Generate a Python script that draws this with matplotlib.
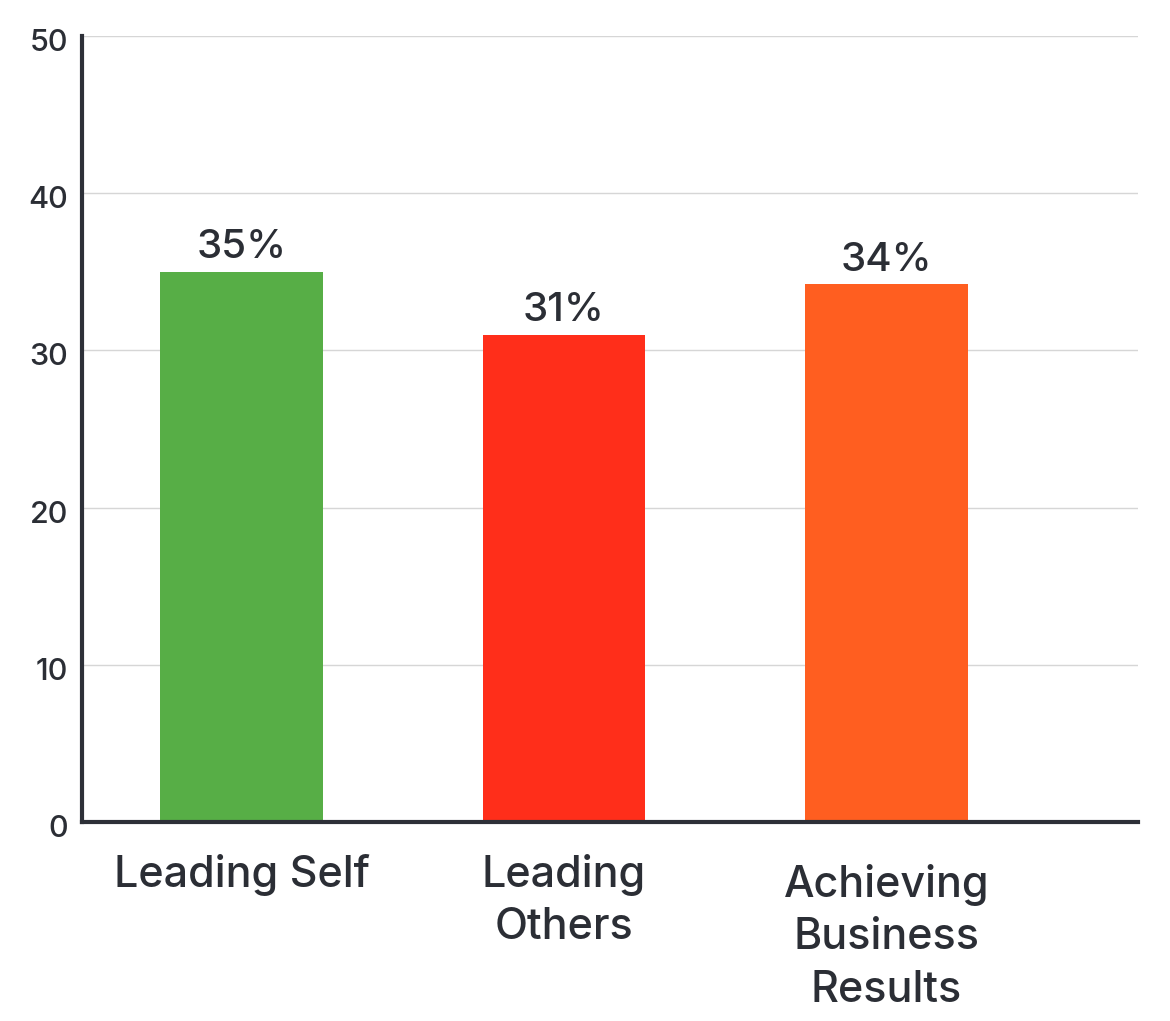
import matplotlib.pyplot as plt
from matplotlib.transforms import ScaledTranslation

categories = ['Leading Self', 'Leading\nOthers', 'Achieving\nBusiness\nResults']
values = [35, 31, 34.2]
value_labels = ['35%', '31%', '34%']
colors = ['#57ae46', '#ff2e1a', '#ff5e20']
label_drop = [0, 0, 10]  # px, third label sits a bit lower

TEXT = '#2b2e35'
plt.rcParams['font.family'] = ['Inter', 'Liberation Sans', 'DejaVu Sans']
plt.rcParams['font.weight'] = 'medium'

fig = plt.figure(figsize=(11.7, 10.21), dpi=100)
ax = fig.add_axes([82 / 1170, 1 - 822 / 1021, (1138 - 82) / 1170, (822 - 36) / 1021])

xs = range(len(categories))
ax.bar(xs, values, width=0.505, color=colors, zorder=3)

for x, v, lab in zip(xs, values, value_labels):
    ax.annotate(lab, (x, v), xytext=(0, 4), textcoords='offset points',
                ha='center', va='bottom', fontsize=29, color=TEXT)

for x, cat, d in zip(xs, categories, label_drop):
    ax.annotate(cat, (x, 0), xycoords=('data', 'axes fraction'),
                xytext=(0, -23 - d * 0.72), textcoords='offset points',
                ha='center', va='top', fontsize=31, color=TEXT, linespacing=1.36)

ax.set_xlim(-0.495, 2.78)
ax.set_ylim(0, 50)
ax.set_yticks([0, 10, 20, 30, 40, 50])
ax.set_xticks([])
ax.tick_params(axis='y', length=0, pad=10, labelsize=22, labelcolor=TEXT)
shift = ScaledTranslation(0, -4 / 100, fig.dpi_scale_trans)
for lab in ax.get_yticklabels():
    lab.set_transform(lab.get_transform() + shift)

ax.grid(axis='y', color='#d6d6d6', linewidth=1, zorder=0)
for s in ['top', 'right']:
    ax.spines[s].set_visible(False)
for s in ['left', 'bottom']:
    ax.spines[s].set_color('#2d3038')
    ax.spines[s].set_linewidth(3)
    ax.spines[s].set_zorder(4)

fig.savefig('out.png', dpi=100)
